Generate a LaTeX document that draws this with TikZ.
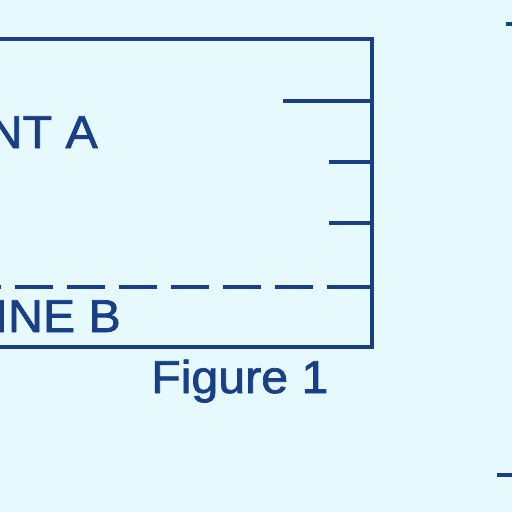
\documentclass[tikz,border=0pt]{standalone}
\usepackage{fontspec}
\setmainfont[FakeBold=1.6,FakeStretch=1.05]{Liberation Sans}
\definecolor{bg}{HTML}{E6F9FC}
\definecolor{ink}{HTML}{1B3F84}
\begin{document}
\begin{tikzpicture}[x=1pt,y=-1pt,
  ln/.style={draw=ink,line width=3.3pt,line cap=butt},
  lbl/.style={text=ink,inner sep=0pt,font=\fontsize{46}{50}\selectfont}]
\fill[bg] (0,0) rectangle (512,512);
\useasboundingbox (0,0) rectangle (512,512);
\clip (0,0) rectangle (512,512);
\coordinate (tl) at (-5,39);
\coordinate (tr) at (372,39);
\coordinate (br) at (372,347);
\coordinate (bl) at (-5,347);
\draw[ln,line join=miter] (tl) -- (tr) -- (br) -- (bl);
\coordinate (t1) at (283,101); \coordinate (t1e) at (372,101);
\coordinate (t2) at (329,162); \coordinate (t2e) at (372,162);
\coordinate (t3) at (329,223); \coordinate (t3e) at (372,223);
\draw[ln] (t1) -- (t1e);
\draw[ln] (t2) -- (t2e);
\draw[ln] (t3) -- (t3e);
\coordinate (d0) at (-37,287); \coordinate (d1) at (372,287);
\draw[ln,dash pattern=on 38pt off 14pt] (d0) -- (d1);
\coordinate (d2) at (327,287);
\draw[ln] (d2) -- (d1);
\node[lbl,anchor=base east] (ta) at (98,148) {NT A};
\node[lbl,anchor=base east] (tb) at (121,332) {INE B};
\node[lbl,anchor=base west] (fig) at (151,393) {Figure 1};
\coordinate (m1) at (506,24); \coordinate (m1e) at (512,24);
\draw[ln] (m1) -- (m1e);
\coordinate (m2) at (497,475); \coordinate (m2e) at (512,475);
\draw[ln] (m2) -- (m2e);
\end{tikzpicture}
\end{document}
